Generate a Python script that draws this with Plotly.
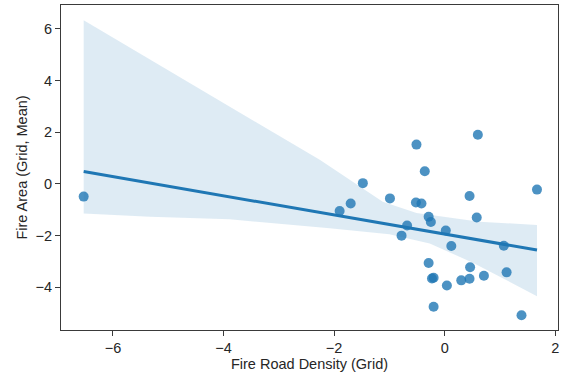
import numpy as np
import plotly.graph_objects as go

# Scatter data
road_density = [-6.53, -1.48, -1.70, -1.90, -0.99, -0.51, -0.36, 0.60, 1.67, 0.45,
                -0.52, -0.42, 0.58, -0.29, -0.25, -0.68, -0.78, 0.02, 0.12, 1.07,
                -0.29, 0.46, -0.23, -0.20, 0.04, 0.30, 0.45, 0.71, 1.12, -0.20, 1.39]
fire_area = [-0.49, 0.03, -0.76, -1.05, -0.56, 1.52, 0.49, 1.90, -0.22, -0.47,
             -0.72, -0.76, -1.30, -1.27, -1.47, -1.61, -2.00, -1.80, -2.40, -2.39,
             -3.06, -3.22, -3.66, -3.63, -3.93, -3.73, -3.67, -3.55, -3.42, -4.75, -5.08]

# Confidence band edges
band_upper_x = [-6.53, -2.26, -1.12, -0.51, 0.63, 1.67]
band_upper_y = [6.33, 0.93, -0.69, -1.12, -1.46, -1.59]
band_lower_x = [-6.53, -5.33, -3.89, -3.53, -2.08, -1.00, -0.27, 0.51, 1.05, 1.67]
band_lower_y = [-1.14, -1.27, -1.37, -1.43, -1.71, -1.95, -2.30, -3.05, -3.66, -4.34]

x_ticks = [-6, -4, -2, 0, 2]
y_ticks = [-4, -2, 0, 2, 4, 6]

# Linear regression fit
slope, intercept = np.polyfit(road_density, fire_area, 1)
fit_x = [min(road_density), max(road_density)]
fit_y = [intercept + slope * v for v in fit_x]

blue = "#1f77b4"
FONT = "Liberation Sans, Arial, sans-serif"
TXT = "#262626"
fig = go.Figure()

fig.add_trace(go.Scatter(
    x=band_upper_x + band_lower_x[::-1],
    y=band_upper_y + band_lower_y[::-1],
    fill="toself", fillcolor="rgba(31,119,180,0.15)",
    line=dict(width=0), mode="lines", hoverinfo="skip", showlegend=False))

fig.add_trace(go.Scatter(
    x=road_density, y=fire_area, mode="markers",
    marker=dict(size=10, color="rgba(31,119,180,0.8)", line=dict(width=0)),
    showlegend=False))

fig.add_trace(go.Scatter(
    x=fit_x, y=fit_y, mode="lines",
    line=dict(color=blue, width=3), showlegend=False))

axis_common = dict(
    showgrid=False, zeroline=False, showline=True, mirror=True,
    linecolor="#3a3a3a", linewidth=1,
    ticks="outside", ticklen=5, tickwidth=1, tickcolor="#3a3a3a",
    tickfont=dict(family=FONT, size=14.5, color=TXT),
)

fig.update_layout(
    width=566, height=380,
    margin=dict(l=61, r=8, t=5, b=50),
    paper_bgcolor="white", plot_bgcolor="white",
    font=dict(family=FONT, color=TXT),
    xaxis=dict(range=[-6.94, 2.05], tickvals=x_ticks,
               title=dict(text="Fire Road Density (Grid)", standoff=3,
                          font=dict(size=14.5, color=TXT)),
               **axis_common),
    yaxis=dict(range=[-5.65, 6.92], tickvals=y_ticks,
               title=dict(text="Fire Area (Grid, Mean)", standoff=4,
                          font=dict(size=14.5, color=TXT)),
               **axis_common),
)

fig.write_html("out.html")
